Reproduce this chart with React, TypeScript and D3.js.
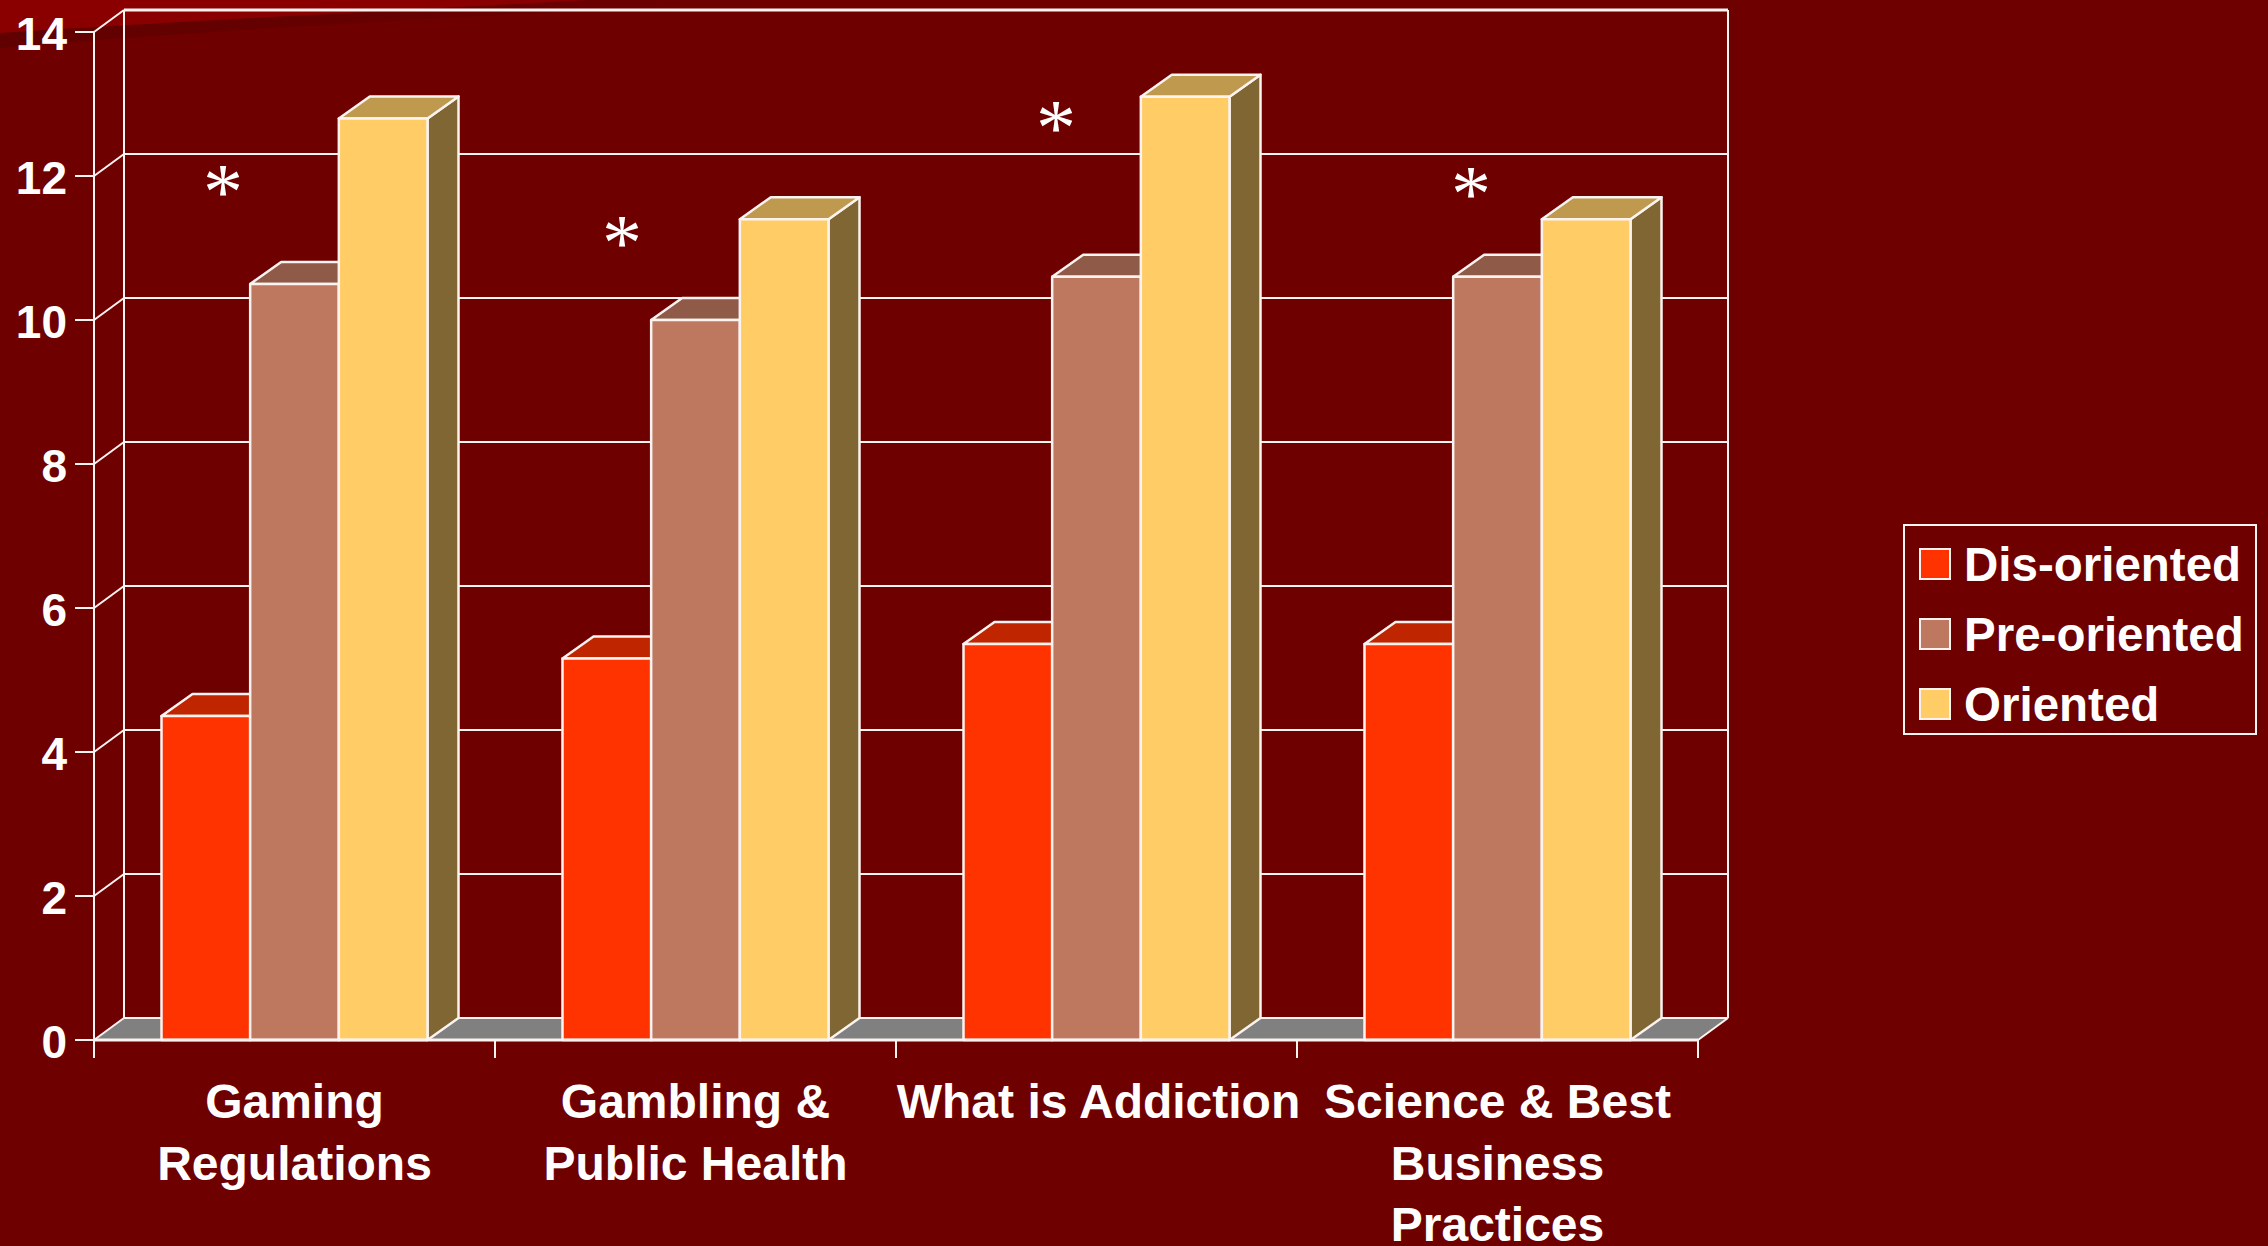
import * as d3 from "d3";

// Mean scores per training topic, split by readiness group.
const categories = ["Gaming Regulations", "Gambling & Public Health", "What is Addiction", "Science & Best Business Practices"];
const categoryLines = [["Gaming", "Regulations"], ["Gambling &", "Public Health"], ["What is Addiction"], ["Science & Best", "Business", "Practices"]];
const seriesNames = ["Dis-oriented", "Pre-oriented", "Oriented"];
const disOriented = [4.5, 5.3, 5.5, 5.5];
const preOriented = [10.5, 10.0, 10.6, 10.6];
const oriented = [12.8, 11.4, 13.1, 11.4];
const yTicks = [0, 2, 4, 6, 8, 10, 12, 14];
// Significance markers: height on the value axis and distance into the category band.
const markerValues = [11.92, 11.21, 12.8, 11.89];
const markerOffsets = [129, 127, 160, 174];

const WIDTH = 2268;
const HEIGHT = 1246;
const DEPTH_X = 30;
const DEPTH_Y = 22;
const BAR_DEPTH_X = 31;
const BG = "#6f0000";
const LINE = "#fbf3f0";

const faces = [
  { front: "#ff3300", top: "#bf2600", side: "#bf2600" },
  { front: "#bf7860", top: "#8f5a48", side: "#8f5a48" },
  { front: "#ffcc66", top: "#bf994d", side: "#806633" },
];
const seriesValues = [disOriented, preOriented, oriented];

const FONT = "'Liberation Sans', Arial, sans-serif";

export default function App() {
  const x = d3.scaleBand<string>().domain(categories).range([94, 1698]);
  const inner = d3.scaleBand<string>().domain(seriesNames).range([67.5, 333.5]);
  const y = d3.scaleLinear().domain([0, 14]).range([1040, 32]);

  const left = 94;
  const right = 1698;
  const poly = d3.line<[number, number]>();

  return (
    <svg
      width={WIDTH}
      height={HEIGHT}
      viewBox={`0 0 ${WIDTH} ${HEIGHT}`}
      style={{ position: "fixed", left: 0, top: 0, display: "block" }}
    >
      <defs>
        <linearGradient id="bandFade" x1="0" y1="0" x2="1" y2="0">
          <stop offset="0" stopColor="#610000" />
          <stop offset="0.45" stopColor="#660000" />
          <stop offset="1" stopColor={BG} />
        </linearGradient>
      </defs>
      <rect width={WIDTH} height={HEIGHT} fill={BG} />
      {/* Slide backdrop sweep in the top-left corner */}
      <path d="M0 48 L0 32 L560 0 L800 0 C 500 15 200 30 0 48 Z" fill="url(#bandFade)" />
      <path d="M0 0 L590 0 C 360 12 170 22 0 33 Z" fill="#8a0000" />

      {/* Back wall, floor and side wall */}
      <path
        d={poly([[left, 1040], [right, 1040], [right + DEPTH_X, 1040 - DEPTH_Y], [left + DEPTH_X, 1040 - DEPTH_Y]])! + "Z"}
        fill="#808080"
      />
      {yTicks.map((t) => (
        <g key={t} stroke={LINE} fill="none">
          <line x1={left + DEPTH_X} x2={right + DEPTH_X} y1={y(t) - DEPTH_Y} y2={y(t) - DEPTH_Y} strokeWidth={t === 14 ? 3 : 2} />
          <line x1={left} x2={left + DEPTH_X} y1={y(t)} y2={y(t) - DEPTH_Y} strokeWidth={2} />
          <line x1={75} x2={left} y1={y(t)} y2={y(t)} strokeWidth={2} />
        </g>
      ))}
      <line x1={left} x2={left} y1={y(14)} y2={1058} stroke={LINE} strokeWidth={2} />
      <line x1={left + DEPTH_X} x2={left + DEPTH_X} y1={y(14) - DEPTH_Y} y2={y(0) - DEPTH_Y} stroke={LINE} strokeWidth={2} />
      <line x1={right + DEPTH_X} x2={right + DEPTH_X} y1={y(14) - DEPTH_Y} y2={y(0) - DEPTH_Y} stroke={LINE} strokeWidth={2} />
      <line x1={right} x2={right + DEPTH_X} y1={y(0)} y2={y(0) - DEPTH_Y} stroke={LINE} strokeWidth={2} />
      {[...categories.map((c) => x(c)!), right].map((tx) => (
        <line key={tx} x1={tx} x2={tx} y1={y(0)} y2={1058} stroke={LINE} strokeWidth={2} />
      ))}

      {/* Extruded bars, drawn left to right within each group */}
      {categories.map((c, ci) =>
        seriesNames.map((s, si) => {
          const v = seriesValues[si][ci];
          const x0 = x(c)! + inner(s)!;
          const x1 = x0 + inner.bandwidth();
          const yt = y(v);
          const yb = y(0);
          const f = faces[si];
          return (
            <g key={c + s} stroke={LINE} strokeWidth={2.5} strokeLinejoin="round">
              <path d={poly([[x1, yt], [x1 + BAR_DEPTH_X, yt - DEPTH_Y], [x1 + BAR_DEPTH_X, yb - DEPTH_Y], [x1, yb]])! + "Z"} fill={f.side} />
              <path d={poly([[x0, yt], [x0 + BAR_DEPTH_X, yt - DEPTH_Y], [x1 + BAR_DEPTH_X, yt - DEPTH_Y], [x1, yt]])! + "Z"} fill={f.top} />
              <rect x={x0} y={yt} width={x1 - x0} height={yb - yt} fill={f.front} />
            </g>
          );
        })
      )}
      <line x1={left} x2={right} y1={y(0)} y2={y(0)} stroke={LINE} strokeWidth={3} />

      {/* Significance asterisks */}
      {categories.map((c, i) => (
        <text
          key={c}
          x={x(c)! + markerOffsets[i]}
          y={y(markerValues[i]) + 37}
          textAnchor="middle"
          fontFamily="'Liberation Serif', 'Times New Roman', serif"
          fontSize={80}
          fill="#ffffff"
        >
          *
        </text>
      ))}

      {/* Value axis labels */}
      {yTicks.map((t) => (
        <text key={t} x={67} y={y(t) + 18} textAnchor="end" fontFamily={FONT} fontWeight={700} fontSize={46} fill="#ffffff">
          {t}
        </text>
      ))}

      {/* Category labels */}
      {categories.map((c, ci) => (
        <text key={c} textAnchor="middle" fontFamily={FONT} fontWeight={700} fontSize={48} fill="#ffffff">
          {categoryLines[ci].map((ln, li) => (
            <tspan key={ln} x={x(c)! + x.bandwidth() / 2 + (ci === 2 ? 2 : 0)} y={1118 + li * 61.5}>
              {ln}
            </tspan>
          ))}
        </text>
      ))}

      {/* Legend */}
      <rect x={1904} y={525} width={352} height={209} fill={BG} stroke={LINE} strokeWidth={2} />
      {seriesNames.map((s, i) => (
        <g key={s}>
          <rect x={1920} y={549 + i * 70} width={30} height={30} fill={faces[i].front} stroke={LINE} strokeWidth={2} />
          <text x={1964} y={581 + i * 70} fontFamily={FONT} fontWeight={700} fontSize={47.5} fill="#ffffff">
            {s}
          </text>
        </g>
      ))}
    </svg>
  );
}
